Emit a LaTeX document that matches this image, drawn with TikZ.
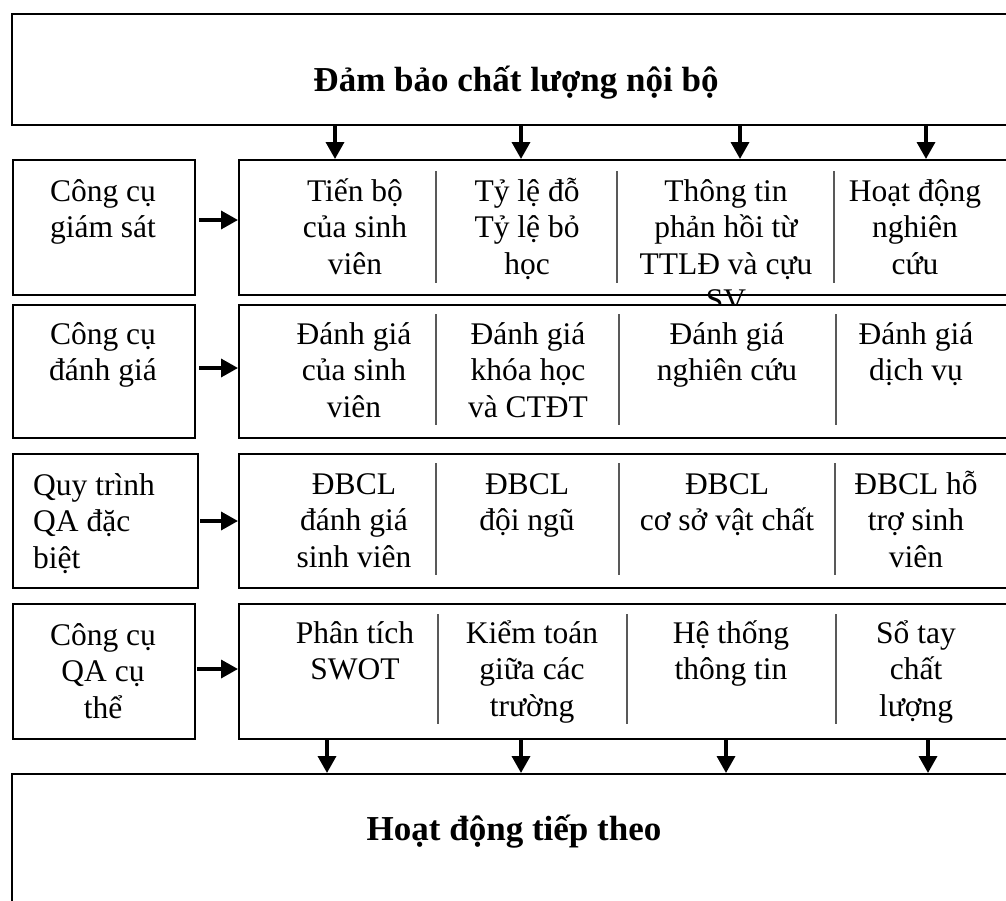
\documentclass[tikz,border=0pt]{standalone}
\usepackage{fontspec}
\setmainfont{Liberation Serif}
\usetikzlibrary{arrows.meta}
% multi-line text whose reference point is the baseline of its first line
\newcommand\mlc[1]{\vtop{\halign{\hfil##\hfil\cr#1\crcr}}}
\newcommand\mll[1]{\vtop{\halign{##\hfil\cr#1\crcr}}}
\begin{document}
\begin{tikzpicture}[x=1pt,y=-1pt,
  box/.style={draw, line width=2pt, fill=white, inner sep=0pt, anchor=north west},
  txt/.style={font=\fontsize{31.5}{36.5}\selectfont, inner sep=0pt, anchor=base},
  ltxt/.style={font=\fontsize{31.5}{36.5}\selectfont, inner sep=0pt, anchor=base west},
  ttl/.style={font=\fontsize{35}{40}\selectfont\bfseries, inner sep=0pt, anchor=base},
  sep/.style={draw=black!65, line width=1.5pt},
  arr/.style={line width=3.5pt, -{Triangle[length=17pt,width=18pt]}}]
\clip (0,0) rectangle (1006,900);

% positions of the vertical arrows
\coordinate (t1) at (335,0);
\coordinate (t2) at (521,0);
\coordinate (t3) at (740,0);
\coordinate (t4) at (926,0);
\coordinate (b1) at (327,0);
\coordinate (b2) at (521,0);
\coordinate (b3) at (726,0);
\coordinate (b4) at (928,0);

% top block
\node[box, minimum width=1030pt, minimum height=111pt] (top) at (11,13) {};
\node[ttl] (toptitle) at (516,91) {Đảm bảo chất lượng nội bộ};

% row 1: monitoring tools
\node[box, minimum width=182pt, minimum height=135pt] (l1) at (12,159) {};
\node[box, minimum width=792pt, minimum height=135pt] (r1) at (238,159) {};
\draw[sep] (436,171) -- (436,283);
\draw[sep] (617,171) -- (617,283);
\draw[sep] (834,171) -- (834,283);
\node[txt] (l1t) at (103,201) {\mlc{Công cụ\cr giám sát}};
\node[txt] (c11) at (355,201) {\mlc{Tiến bộ\cr của sinh\cr viên}};
\node[txt] (c12) at (527,201) {\mlc{Tỷ lệ đỗ\cr Tỷ lệ bỏ\cr học}};
\node[txt] (c13) at (726,201) {\mlc{Thông tin\cr phản hồi từ\cr TTLĐ và cựu\cr SV}};
\node[txt] (c14) at (915,201) {\mlc{Hoạt động\cr nghiên\cr cứu}};

% row 2: evaluation tools
\node[box, minimum width=182pt, minimum height=133pt] (l2) at (12,304) {};
\node[box, minimum width=792pt, minimum height=133pt] (r2) at (238,304) {};
\draw[sep] (436,314) -- (436,425);
\draw[sep] (619,314) -- (619,425);
\draw[sep] (836,314) -- (836,425);
\node[txt] (l2t) at (103,344) {\mlc{Công cụ\cr đánh giá}};
\node[txt] (c21) at (354,344) {\mlc{Đánh giá\cr của sinh\cr viên}};
\node[txt] (c22) at (528,344) {\mlc{Đánh giá\cr khóa học\cr và CTĐT}};
\node[txt] (c23) at (727,344) {\mlc{Đánh giá\cr nghiên cứu}};
\node[txt] (c24) at (916,344) {\mlc{Đánh giá\cr dịch vụ}};

% row 3: special QA procedures
\node[box, minimum width=185pt, minimum height=134pt] (l3) at (12,453) {};
\node[box, minimum width=792pt, minimum height=134pt] (r3) at (238,453) {};
\draw[sep] (436,463) -- (436,575);
\draw[sep] (619,463) -- (619,575);
\draw[sep] (835,463) -- (835,575);
\node[ltxt] (l3t) at (33,495) {\mll{Quy trình\cr QA đặc\cr biệt}};
\node[txt] (c31) at (354,494) {\mlc{ĐBCL\cr đánh giá\cr sinh viên}};
\node[txt] (c32) at (527,494) {\mlc{ĐBCL\cr đội ngũ}};
\node[txt] (c33) at (727,494) {\mlc{ĐBCL\cr cơ sở vật chất}};
\node[txt] (c34) at (916,494) {\mlc{ĐBCL hỗ\cr trợ sinh\cr viên}};

% row 4: specific QA tools
\node[box, minimum width=182pt, minimum height=135pt] (l4) at (12,603) {};
\node[box, minimum width=792pt, minimum height=135pt] (r4) at (238,603) {};
\draw[sep] (438,614) -- (438,724);
\draw[sep] (627,614) -- (627,724);
\draw[sep] (836,614) -- (836,724);
\node[txt] (l4t) at (103,645) {\mlc{Công cụ\cr QA cụ\cr thể}};
\node[txt] (c41) at (355,643) {\mlc{Phân tích\cr SWOT}};
\node[txt] (c42) at (532,643) {\mlc{Kiểm toán\cr giữa các\cr trường}};
\node[txt] (c43) at (731,643) {\mlc{Hệ thống\cr thông tin}};
\node[txt] (c44) at (916,643) {\mlc{Sổ tay\cr chất\cr lượng}};

% bottom block
\node[box, minimum width=1030pt, minimum height=200pt] (bot) at (11,773) {};
\node[ttl] (bottitle) at (514,840) {Hoạt động tiếp theo};

% arrows from the top block
\foreach \c in {t1,t2,t3,t4}
  \draw[arr] (top.south -| \c) -- (r1.north -| \c);

% arrows from the tool boxes to their contents
\draw[arr, shorten <=3pt] ([yshift=7.5pt]l1.east) -- ([yshift=7.5pt]r1.west);
\draw[arr, shorten <=3pt] ([yshift=3.5pt]l2.east) -- ([yshift=3.5pt]r2.west);
\draw[arr, shorten <=1pt] (l3.east) -- (r3.west);
\draw[arr, shorten <=1pt] ([yshift=2.5pt]l4.east) -- ([yshift=2.5pt]r4.west);

% arrows into the bottom block
\foreach \c in {b1,b2,b3,b4}
  \draw[arr] (r4.south -| \c) -- (bot.north -| \c);
\end{tikzpicture}
\end{document}
